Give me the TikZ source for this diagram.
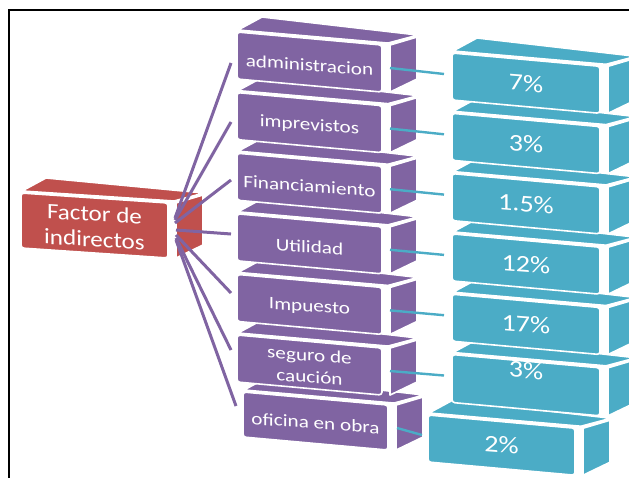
\documentclass[tikz,border=0pt]{standalone}
\usepackage{fontspec}
\setmainfont{Carlito}
\definecolor{cred}{HTML}{C0504D}
\definecolor{cpur}{HTML}{8064A2}
\definecolor{ctea}{HTML}{4BACC6}
\newcommand{\cubo}[7]{%
  \pgfmathsetmacro{\cubx}{#3}\pgfmathsetmacro{\cuby}{#4}%
  \pgfmathsetmacro{\cubrx}{#3+#5}\pgfmathsetmacro{\cubry}{#4+#7*#5}%
  \filldraw[fill=#2,face] (\cubx+1,\cuby-2) -- (\cubx+25,\cuby-15) -- (\cubrx+36,\cubry-10) -- (\cubrx+6,\cubry-2) -- cycle;
  \filldraw[fill=#2,face] (\cubrx+8,\cubry) -- (\cubrx+35,\cubry-8) -- (\cubrx+35,\cubry+#6-13) -- (\cubrx+8,\cubry+#6) -- cycle;
  \filldraw[fill=#2,face,rounded corners=3pt] (\cubx,\cuby) -- (\cubrx,\cubry) -- (\cubrx,\cubry+#6) -- (\cubx,\cuby+#6) -- cycle;
  \coordinate (#1) at ({\cubx+#5/2},{\cuby+#7*#5/2+#6/2});
}
\begin{document}
\begin{tikzpicture}[x=1pt,y=-1pt,
  face/.style={draw=white,line width=1.6pt,line join=round},
  ptext/.style={text=white,font=\fontsize{17.5}{22}\selectfont,xscale=1.21,yslant=-0.09,align=center,inner sep=0pt},
  ttext/.style={text=white,font=\fontsize{24}{26}\selectfont,xscale=1.17,yslant=-0.09,inner sep=0pt},
  rtext/.style={text=white,font=\fontsize{22}{25.5}\selectfont,xscale=1.14,yslant=-0.07,align=center,inner sep=0pt},
  pline/.style={cpur,line width=3pt},
  tline/.style={ctea,line width=2.4pt}]
\useasboundingbox (0,0) rectangle (629,477);
\clip (0,0) rectangle (629,477);
\fill[white] (0,0) rectangle (629,477);
% frame
\draw[line width=2.4pt] (9.2,480) -- (9.2,10) -- (632,10);
% teal boxes (bottom to top)
\cubo{c6}{ctea}{428}{415}{147}{47}{0.09}
\cubo{c5}{ctea}{452}{354.5}{148}{48}{0.09}
\cubo{c4}{ctea}{452}{294.2}{148}{47}{0.09}
\cubo{c3}{ctea}{452}{233.9}{148}{47}{0.09}
\cubo{c2}{ctea}{452}{173.6}{148}{47}{0.09}
\cubo{c1}{ctea}{452}{113.3}{148}{47}{0.09}
\cubo{c0}{ctea}{452}{53}{148}{47}{0.09}
% purple boxes (bottom to top)
\cubo{b6}{cpur}{243}{392}{145}{45}{0.09}
\cubo{b5}{cpur}{237}{335}{145}{47}{0.09}
\cubo{b4}{cpur}{237}{274.4}{145}{47}{0.09}
\cubo{b3}{cpur}{237}{213.8}{145}{47}{0.09}
\cubo{b2}{cpur}{237}{153.2}{145}{47}{0.09}
\cubo{b1}{cpur}{237}{92.6}{145}{47}{0.09}
\cubo{b0}{cpur}{237}{32}{145}{47}{0.09}
% red box
\cubo{a}{cred}{21}{193}{147}{55}{0.068}
% connector end points
\coordinate (r0) at (175,218); \coordinate (q0) at (231,63);
\coordinate (r1) at (175,220); \coordinate (q1) at (231,122);
\coordinate (r2) at (175,223); \coordinate (q2) at (231,180);
\coordinate (r3) at (176,230); \coordinate (q3) at (231,234);
\coordinate (r4) at (176,235); \coordinate (q4) at (231,293);
\coordinate (r5) at (176,238); \coordinate (q5) at (231,350);
\coordinate (r6) at (176,240); \coordinate (q6) at (236,406);
\foreach \i in {0,...,6} \draw[pline] (r\i) -- (q\i);
% teal connectors
\coordinate (s0) at (390,68);    \coordinate (e0) at (444,74);
\coordinate (s1) at (390,128.6); \coordinate (e1) at (444,134.3);
\coordinate (s2) at (390,189.2); \coordinate (e2) at (444,194.6);
\coordinate (s3) at (390,249.8); \coordinate (e3) at (444,254.9);
\coordinate (s4) at (390,310.4); \coordinate (e4) at (444,315.2);
\coordinate (s5) at (390,371);   \coordinate (e5) at (444,375.5);
\coordinate (s6) at (397,428);   \coordinate (e6) at (422,435);
\foreach \i in {0,...,6} \draw[tline] (s\i) -- (e\i);
% texts
\node[rtext] (ta) at ([yshift=-1pt]a) {Factor de\\indirectos};
\node[ptext] (tb0) at ([yshift=-3pt]b0) {administracion};
\node[ptext] (tb1) at ([yshift=-3pt]b1) {imprevistos};
\node[ptext] (tb2) at ([yshift=-3pt]b2) {Financiamiento};
\node[ptext] (tb3) at ([yshift=-3pt]b3) {Utilidad};
\node[ptext] (tb4) at ([yshift=-3pt]b4) {Impuesto};
\node[ptext] (tb5) at ([yshift=-1pt]b5) {seguro de\\caución};
\node[ptext] (tb6) at ([yshift=-2pt]b6) {oficina en obra};
\node[ttext] (tc0) at (c0) {7\%};
\node[ttext] (tc1) at (c1) {3\%};
\node[ttext] (tc2) at (c2) {1.5\%};
\node[ttext] (tc3) at (c3) {12\%};
\node[ttext] (tc4) at (c4) {17\%};
\node[ttext] (tc5) at ([yshift=15pt]c5) {3\%};
\node[ttext] (tc6) at (c6) {2\%};
\end{tikzpicture}
\end{document}
